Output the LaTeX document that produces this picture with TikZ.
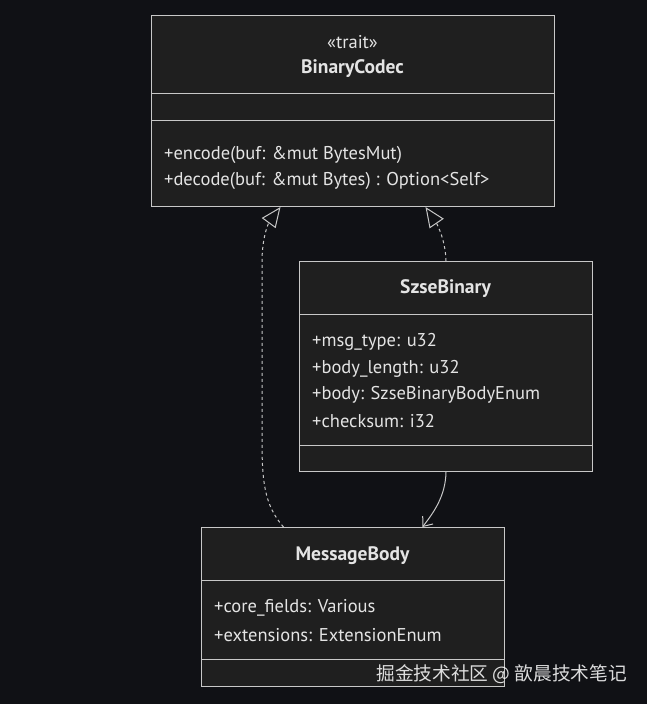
\documentclass[tikz,border=0pt]{standalone}
\usepackage{fontspec}
\setmainfont{PT Sans}
\newfontfamily\cjkfont{Noto Sans CJK SC}
\usetikzlibrary{arrows.meta}
\definecolor{bgc}{RGB}{16,17,21}
\definecolor{boxc}{RGB}{31,31,31}
\definecolor{linec}{RGB}{200,200,200}
\definecolor{txtc}{RGB}{228,228,228}
\tikzset{
  umlbox/.style={draw=linec, fill=boxc, line width=1pt, inner sep=0pt, anchor=north west},
  sepline/.style={draw=linec, line width=1pt},
  title/.style={text=txtc, font=\fontsize{19.5}{23}\selectfont\bfseries, inner sep=0pt},
  stereo/.style={text=txtc, font=\fontsize{18.5}{22}\selectfont, inner sep=0pt},
  member/.style={text=txtc, font=\fontsize{18.5}{22}\selectfont, inner sep=0pt, anchor=west},
  realize/.style={draw=linec, line width=1pt, dash pattern=on 3pt off 3pt, -{Triangle[open, length=20pt, width=17pt, fill=bgc]}},
  assoc/.style={draw=linec, line width=1pt, -{Straight Barb[length=8pt, width=13pt]}},
}
\begin{document}
\begin{tikzpicture}[x=1pt, y=-1pt]
\fill[bgc] (0,0) rectangle (647,704);
\useasboundingbox (0,0) rectangle (647,704);

% BinaryCodec
\node[umlbox, minimum width=403pt, minimum height=191pt] (bc) at (151,15) {};
\draw[sepline] (151,93) -- (554,93);
\draw[sepline] (151,120) -- (554,120);
\node[stereo] (bcst) at (352.5,42) {«trait»};
\node[title] (bct) at (352.5,69) {BinaryCodec};
\node[member] (bcm1) at (164,155) {+encode(buf: \&mut BytesMut)};
\node[member] (bcm2) at (164,181) {+decode(buf: \&mut Bytes) : Option<Self>};

% SzseBinary
\node[umlbox, minimum width=293pt, minimum height=210pt] (sb) at (299,261) {};
\draw[sepline] (299,314) -- (592,314);
\draw[sepline] (299,445) -- (592,445);
\node[title] (sbt) at (445.5,289) {SzseBinary};
\node[member] (sbf1) at (312,342) {+msg\_type: u32};
\node[member] (sbf2) at (312,369) {+body\_length: u32};
\node[member] (sbf3) at (312,395) {+body: SzseBinaryBodyEnum};
\node[member] (sbf4) at (312,421) {+checksum: i32};

% MessageBody
\node[umlbox, minimum width=303pt, minimum height=159pt] (mb) at (201,527) {};
\draw[sepline] (201,580) -- (504,580);
\draw[sepline] (201,659) -- (504,659);
\node[title] (mbt) at (352.5,556) {MessageBody};
\node[member] (mbf1) at (214,608) {+core\_fields: Various};
\node[member] (mbf2) at (214,635) {+extensions: ExtensionEnum};

% connectors
\draw[realize] (sb.north) .. controls (445.5,240) and (437,224) .. ([xshift=72.5]bc.south);
\draw[realize] ([xshift=-69.5]mb.north) .. controls (264,505) and (262,480) .. (262,440) -- (262,262) .. controls (262,238) and (268,224) .. ([xshift=-72.5]bc.south);
\draw[assoc] (sb.south) .. controls (445.5,496) and (434,512) .. ([xshift=69.5]mb.north);

% watermark
\node[text=white, opacity=0.85, font=\cjkfont\fontsize{18.7}{22}\selectfont, inner sep=0pt, anchor=east] (wm) at (627,674) {掘金技术社区 @ 歆晨技术笔记};
\end{tikzpicture}
\end{document}
